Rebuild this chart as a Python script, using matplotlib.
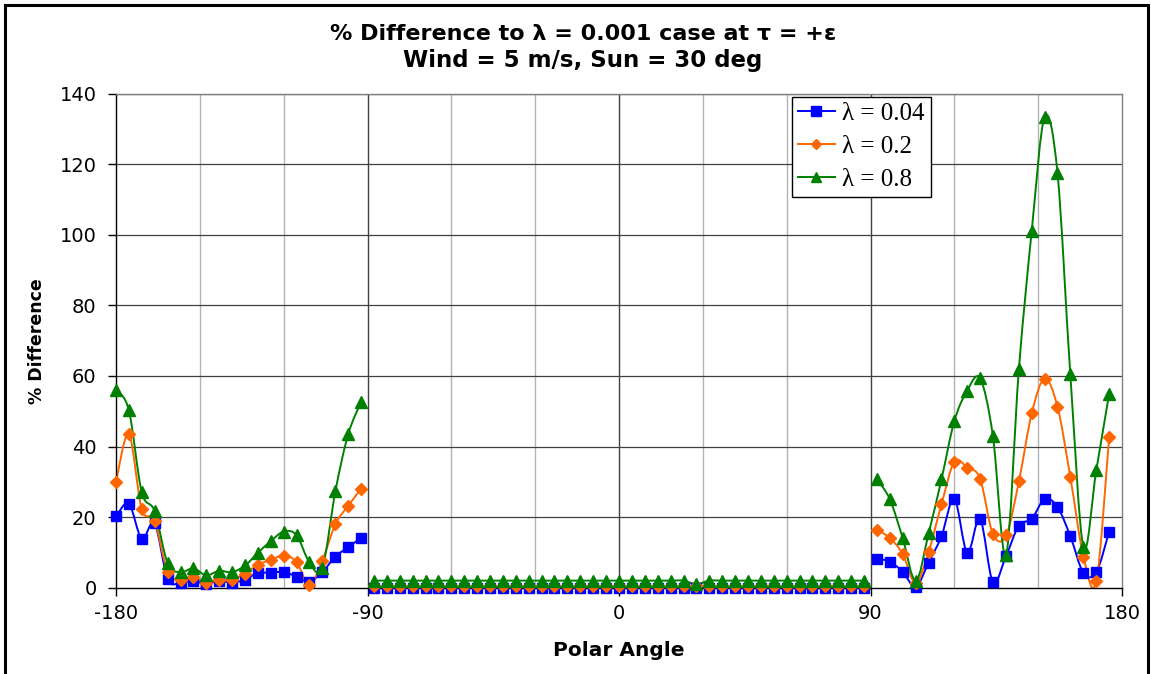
import matplotlib.pyplot as plt
import numpy as np
from matplotlib.lines import Line2D
from matplotlib.patches import PathPatch, Rectangle
from matplotlib.path import Path

# Polar angles (deg), split into the three sampled sectors
angle_left = [-180.0, -175.4, -170.8, -166.2, -161.5, -156.9, -152.3, -147.7, -143.1, -138.5,
              -133.8, -129.2, -124.6, -120.0, -115.4, -110.8, -106.2, -101.5, -96.9, -92.3]
angle_mid = [-87.7, -83.1, -78.5, -73.8, -69.2, -64.6, -60.0, -55.4, -50.8, -46.2,
             -41.5, -36.9, -32.3, -27.7, -23.1, -18.5, -13.8, -9.2, -4.6, 0.0,
             4.6, 9.2, 13.8, 18.5, 23.1, 27.7, 32.3, 36.9, 41.5, 46.2,
             50.8, 55.4, 60.0, 64.6, 69.2, 73.8, 78.5, 83.1, 87.7]
angle_right = [92.3, 96.9, 101.5, 106.2, 110.8, 115.4, 120.0, 124.6, 129.2, 133.8,
               138.5, 143.1, 147.7, 152.3, 156.9, 161.5, 166.2, 170.8, 175.4]

# % difference, lambda = 0.04
l004_left = [20.2, 23.8, 13.9, 18.2, 2.5, 1.4, 2.0, 1.0, 2.0, 1.4,
             2.3, 4.2, 4.2, 4.5, 3.1, 1.7, 4.4, 8.8, 11.5, 14.1]
l004_mid = [0.0, 0.0, 0.0, 0.0, 0.0, 0.0, 0.0, 0.0, 0.0, 0.0,
            0.0, 0.0, 0.0, 0.0, 0.0, 0.0, 0.0, 0.0, 0.0, 0.0,
            0.0, 0.0, 0.0, 0.0, 0.0, 0.0, 0.0, 0.0, 0.0, 0.0,
            0.0, 0.0, 0.0, 0.0, 0.0, 0.0, 0.0, 0.0, 0.0]
l004_right = [8.2, 7.4, 4.5, 0.3, 7.1, 14.6, 25.2, 9.9, 19.5, 1.6,
              9.0, 17.6, 19.5, 25.1, 22.9, 14.6, 4.2, 4.4, 15.9]

# lambda = 0.2
l02_left = [30.0, 43.5, 22.3, 19.0, 4.4, 2.3, 2.9, 1.4, 2.3, 2.3,
            4.0, 6.5, 7.9, 9.1, 7.3, 0.7, 7.6, 18.0, 23.2, 28.0]
l02_mid = [0.4, 0.4, 0.4, 0.4, 0.4, 0.4, 0.4, 0.4, 0.4, 0.4,
           0.4, 0.4, 0.4, 0.4, 0.4, 0.4, 0.4, 0.4, 0.4, 0.4,
           0.4, 0.4, 0.4, 0.4, 0.4, 0.4, 0.4, 0.4, 0.4, 0.4,
           0.4, 0.4, 0.4, 0.4, 0.4, 0.4, 0.4, 0.4, 0.4]
l02_right = [16.4, 14.1, 9.6, 1.2, 10.2, 23.6, 35.7, 34.0, 30.9, 15.2,
             14.8, 30.1, 49.4, 59.2, 51.3, 31.4, 8.8, 1.8, 42.6]

# lambda = 0.8
l08_left = [56.0, 50.3, 27.1, 21.7, 6.9, 4.4, 5.5, 3.5, 4.8, 4.4,
            6.3, 9.9, 13.2, 15.9, 14.9, 7.2, 5.5, 27.3, 43.5, 52.6]
l08_mid = [2.0, 2.0, 2.0, 2.0, 2.0, 2.0, 2.0, 2.0, 2.0, 2.0,
           2.0, 2.0, 2.0, 2.0, 2.0, 2.0, 2.0, 2.0, 2.0, 2.0,
           2.0, 2.0, 2.0, 2.0, 2.0, 1.0, 2.0, 2.0, 2.0, 2.0,
           2.0, 2.0, 2.0, 2.0, 2.0, 2.0, 2.0, 2.0, 2.0]
l08_right = [30.7, 25.1, 14.1, 1.9, 15.4, 30.7, 47.2, 55.8, 59.3, 43.0,
             9.3, 61.9, 101.1, 133.3, 117.6, 60.5, 11.5, 33.3, 54.9]

series = [
    ("\u03bb = 0.04", "#0000ff", "s", 7.5, [l004_left, l004_mid, l004_right]),
    ("\u03bb = 0.2", "#ff6600", "D", 6.0, [l02_left, l02_mid, l02_right]),
    ("\u03bb = 0.8", "#008000", "^", 8.0, [l08_left, l08_mid, l08_right]),
]
sectors = [angle_left, angle_mid, angle_right]


def smooth_path(x, y):
    """Catmull-Rom style cubic Bezier through the points (spreadsheet 'smoothed line')."""
    pts = np.column_stack([x, y])
    n = len(pts)
    verts = [pts[0]]
    codes = [Path.MOVETO]
    for k in range(n - 1):
        p0 = pts[k - 1] if k > 0 else pts[k]
        p1, p2 = pts[k], pts[k + 1]
        p3 = pts[k + 2] if k + 2 < n else pts[k + 1]
        verts += [p1 + (p2 - p0) / 6, p2 - (p3 - p1) / 6, p2]
        codes += [Path.CURVE4] * 3
    return Path(verts, codes)


def main():
    plt.rcParams.update({"font.family": "DejaVu Sans"})

    fig = plt.figure(figsize=(11.51, 6.74), dpi=100)
    W, H = 1151, 674
    ax = fig.add_axes([116 / W, 1 - 587.7 / H, 1006 / W, 494.2 / H])

    ax.set_xlim(-180, 180)
    ax.set_ylim(0, 140)

    # grid: light minor verticals every 30, dark majors every 90, horizontals every 20
    for gx in [-150, -120, -60, -30, 30, 60, 120, 150]:
        ax.axvline(gx, color="#b4b4b4", lw=1.0, zorder=0.5)
    for gx in [-90, 0, 90]:
        ax.axvline(gx, color="#404040", lw=1.0, zorder=0.6)
    for gy in range(20, 141, 20):
        ax.axhline(gy, color="#404040", lw=0.9, zorder=0.6)

    for label, color, marker, ms, parts in series:
        for xs, ys in zip(sectors, parts):
            ax.add_patch(PathPatch(smooth_path(xs, ys), facecolor="none",
                                   edgecolor=color, lw=1.4, zorder=2))
            ax.plot(xs, ys, linestyle="none", marker=marker, markersize=ms,
                    color=color, markeredgecolor=color, zorder=3, clip_on=False)

    for side in ["left", "bottom"]:
        ax.spines[side].set_color("black")
        ax.spines[side].set_linewidth(1.0)
    for side in ["top", "right"]:
        ax.spines[side].set_color("#808080")
        ax.spines[side].set_linewidth(1.0)

    ax.set_xticks([-180, -90, 0, 90, 180])
    ax.set_xticklabels(["-180", "-90", "0", "90", "180"])
    ax.set_yticks(range(0, 141, 20))
    ax.tick_params(axis="both", direction="out", length=6, width=1.0,
                   labelsize=14, color="black")
    ax.tick_params(axis="x", pad=6)
    ax.tick_params(axis="y", pad=8)

    fig.text(583 / W, 1 - 34 / H, "% Difference to \u03bb = 0.001 case at \u03c4 = +\u03b5",
             ha="center", va="center", fontsize=16, fontweight="bold")
    fig.text(583 / W, 1 - 61 / H, "Wind = 5 m/s, Sun = 30 deg",
             ha="center", va="center", fontsize=16.5, fontweight="bold")
    fig.text(619 / W, 1 - 651 / H, "Polar Angle", ha="center", va="center",
             fontsize=14.5, fontweight="bold")
    fig.text(37 / W, 1 - 341 / H, "% Difference", ha="center", va="center",
             fontsize=12.5, fontweight="bold", rotation=90)

    handles = [Line2D([], [], color=c, lw=1.4, marker=m, markersize=ms - 1, markeredgecolor=c)
               for _, c, m, ms, _ in series]
    leg = ax.legend(handles, [s[0] for s in series], loc="upper left",
                    bbox_to_anchor=(792 / W, 1 - 97 / H), bbox_transform=fig.transFigure,
                    prop={"family": "Liberation Serif", "size": 18}, frameon=True,
                    fancybox=False, framealpha=1, edgecolor="black", handlelength=1.5,
                    handletextpad=0.3, labelspacing=0.42, borderpad=0.22, borderaxespad=0)
    leg.get_frame().set_linewidth(1.0)
    leg.set_zorder(5)

    # chart-area border
    fig.add_artist(Rectangle((5 / W, -0.05), 1143 / W, 1.05 - 5 / H,
                             transform=fig.transFigure, facecolor="none",
                             edgecolor="black", lw=2.2))

    fig.savefig("out.png", dpi=100)


if __name__ == "__main__":
    main()
